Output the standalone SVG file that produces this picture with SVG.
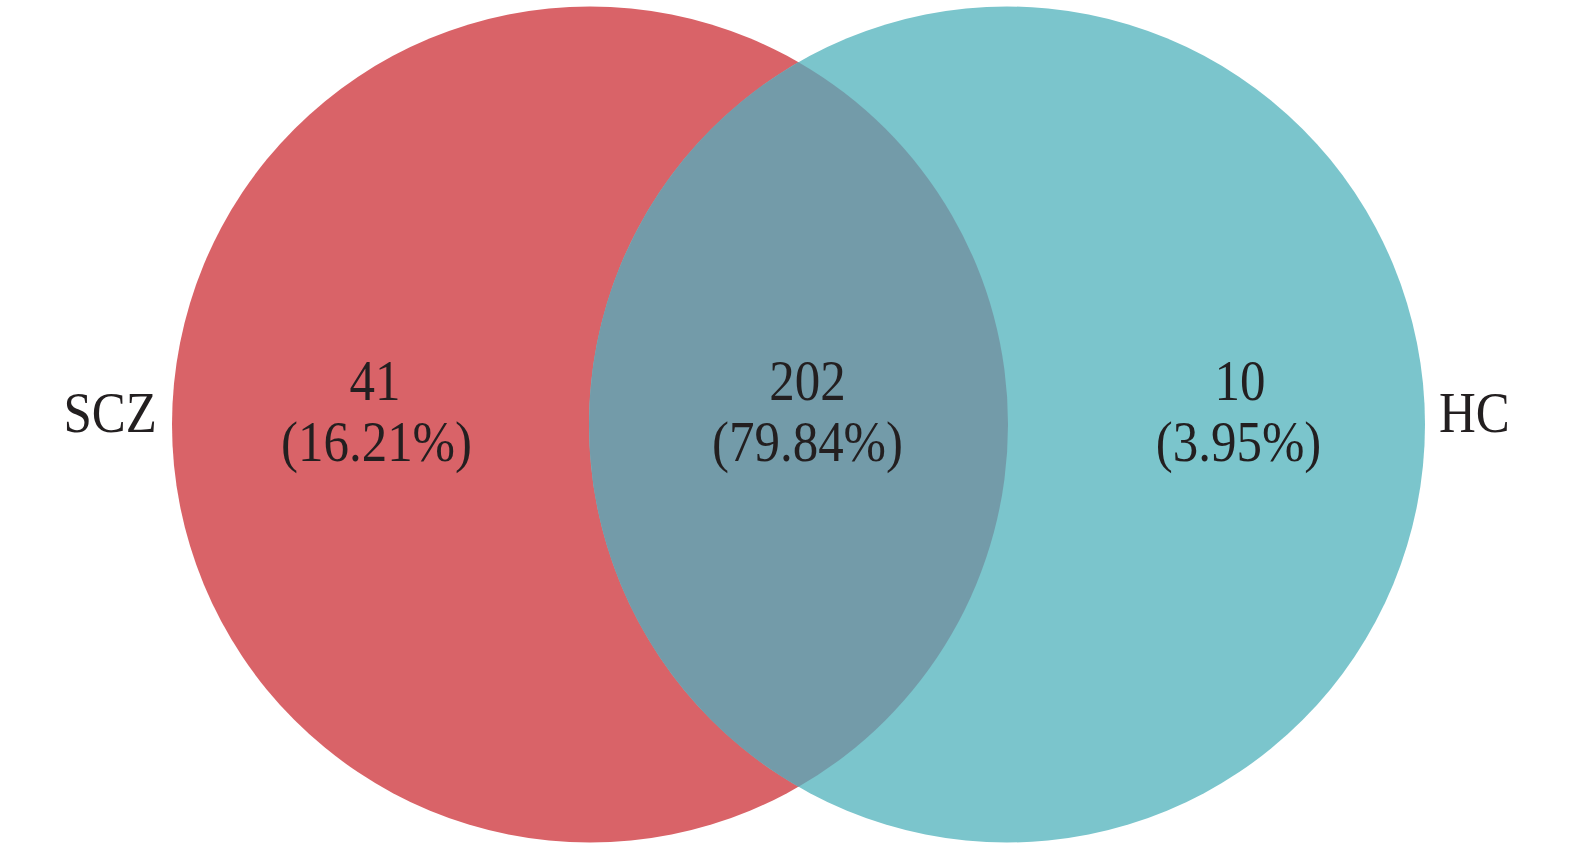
<svg xmlns="http://www.w3.org/2000/svg" width="1575" height="853" viewBox="0 0 1575 853">
<style>
.t{font-family:"Liberation Serif","Times New Roman",serif;font-size:51px;fill:#231f20}
.m{text-anchor:middle}
</style>
<rect width="1575" height="853" fill="#ffffff"/>
<g id="scz">
<circle cx="590" cy="424.5" r="418" fill="#D96368"/>
</g>
<g id="hc">
<circle cx="1007" cy="424.5" r="418" fill="#7BC5CC"/>
</g>
<g id="overlap">
<path d="M798.5,62.2 A418,418 0 0,1 798.5,786.8 A418,418 0 0,1 798.5,62.2 Z" fill="#739BA9"/>
</g>
<g id="labels">
<text class="t" transform="translate(157,432) scale(1,1.12)" text-anchor="end">SCZ</text>
<text class="t" transform="translate(1439,432) scale(1,1.12)">HC</text>
<text class="t m" transform="translate(375,400) scale(1,1.12)">41</text>
<text class="t m" transform="translate(376.5,461) scale(1,1.12)">(16.21%)</text>
<text class="t m" transform="translate(807.5,400) scale(1,1.12)">202</text>
<text class="t m" transform="translate(807.5,461) scale(1,1.12)">(79.84%)</text>
<text class="t m" transform="translate(1240,400) scale(1,1.12)">10</text>
<text class="t m" transform="translate(1238.5,461) scale(1,1.12)">(3.95%)</text>
</g>
</svg>
